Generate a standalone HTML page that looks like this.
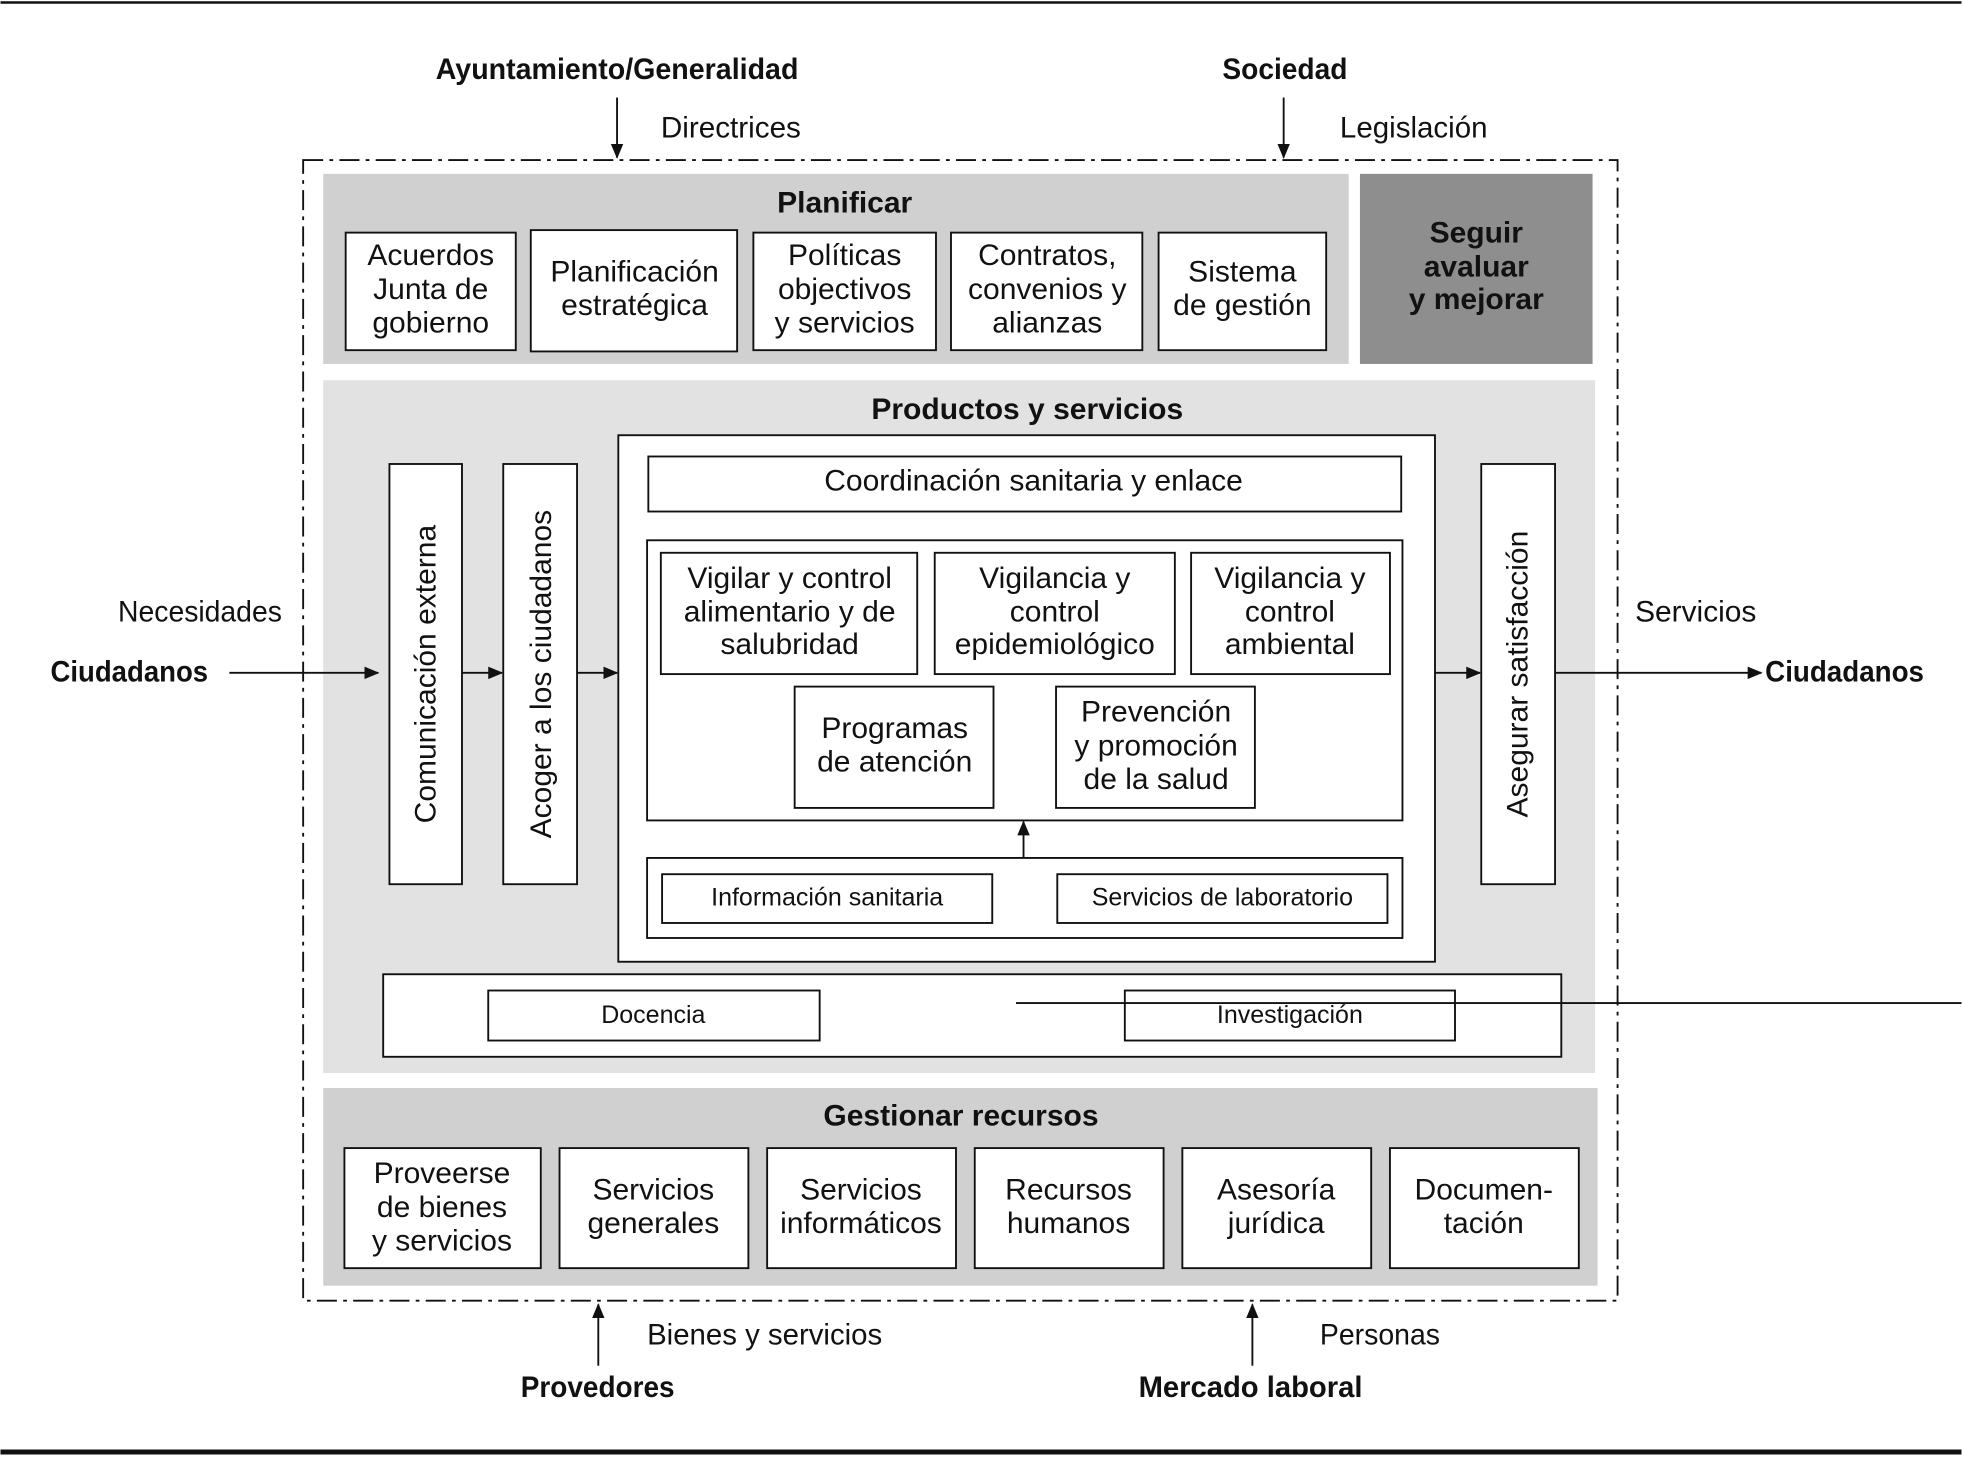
<!DOCTYPE html>
<html><head><meta charset="utf-8"><style>
html,body{margin:0;padding:0;background:#fff;}
svg{display:block;}
text{font-family:"Liberation Sans",sans-serif;fill:#111;}
.b{font-size:24px;text-anchor:middle;}
.s{font-size:20px;text-anchor:middle;}
.h{font-size:24px;font-weight:bold;text-anchor:middle;}
.c{font-size:24px;font-weight:bold;}
.n{font-size:24px;}
</style></head><body>
<svg width="1962" height="1457" viewBox="0 0 1568 1165" xmlns="http://www.w3.org/2000/svg">
<defs><marker id="a" markerWidth="12" markerHeight="10" refX="11" refY="5" orient="auto" markerUnits="userSpaceOnUse"><path d="M0,0 L12,5 L0,10 Z" fill="#111"/></marker></defs>
<rect width="1568" height="1165" fill="#fff"/>
<line x1="0" y1="2" x2="1568" y2="2" stroke="#111" stroke-width="2"/>
<line x1="0" y1="1161" x2="1568" y2="1161" stroke="#111" stroke-width="4"/>
<g fill="#d0d0d0"><rect x="258" y="139" width="820" height="152"/><rect x="258" y="870" width="1019" height="158"/></g>
<rect x="1087" y="139" width="186" height="152" fill="#8e8e8e"/>
<rect x="258" y="304" width="1017" height="554" fill="#e2e2e2"/>
<rect x="242" y="128" width="1051" height="912" fill="none" stroke="#111" stroke-width="1.5" stroke-dasharray="16,5,3,5"/>
<g fill="#fff" stroke="#111" stroke-width="1.5">
<rect x="276" y="186" width="136" height="94"/><rect x="424" y="184" width="165" height="97"/><rect x="602" y="186" width="146" height="94"/><rect x="760" y="186" width="153" height="94"/><rect x="926" y="186" width="134" height="94"/>
<rect x="494" y="348" width="653" height="421"/>
<rect x="518" y="365" width="602" height="44"/>
<rect x="517" y="432" width="604" height="224"/>
<rect x="528" y="442" width="205" height="97"/><rect x="747" y="442" width="192" height="97"/><rect x="952" y="442" width="159" height="97"/>
<rect x="635" y="549" width="159" height="97"/><rect x="844" y="549" width="159" height="97"/>
<rect x="517" y="686" width="604" height="64"/>
<rect x="529" y="699" width="264" height="39"/><rect x="845" y="699" width="264" height="39"/>
<rect x="311" y="371" width="58" height="336"/><rect x="402" y="371" width="59" height="336"/><rect x="1184" y="371" width="59" height="336"/>
<rect x="306" y="779" width="942" height="66"/>
<rect x="390" y="792" width="265" height="40"/><rect x="899" y="792" width="264" height="40"/>
<rect x="275" y="918" width="157" height="96"/><rect x="447" y="918" width="151" height="96"/><rect x="613" y="918" width="151" height="96"/><rect x="779" y="918" width="151" height="96"/><rect x="945" y="918" width="151" height="96"/><rect x="1111" y="918" width="151" height="96"/>
</g>
<g stroke="#111" stroke-width="1.5" marker-end="url(#a)">
<line x1="493" y1="78" x2="493" y2="126"/><line x1="1026" y1="78" x2="1026" y2="126"/>
<line x1="478" y1="1092" x2="478" y2="1043"/><line x1="1001" y1="1092" x2="1001" y2="1043"/>
<line x1="183" y1="538" x2="302" y2="538"/><line x1="369" y1="538" x2="401" y2="538"/><line x1="461" y1="538" x2="493" y2="538"/><line x1="1147" y1="538" x2="1183" y2="538"/><line x1="1243" y1="538" x2="1408" y2="538"/>
<line x1="818" y1="686" x2="818" y2="657"/>
</g>
<line x1="812" y1="802" x2="1568" y2="802" stroke="#111" stroke-width="1.5"/>
<text class="c" x="348" y="63" textLength="290" lengthAdjust="spacingAndGlyphs">Ayuntamiento/Generalidad</text>
<text class="c" x="977" y="63" textLength="100" lengthAdjust="spacingAndGlyphs">Sociedad</text>
<text class="n" x="528" y="110" textLength="112" lengthAdjust="spacingAndGlyphs">Directrices</text>
<text class="n" x="1071" y="110" textLength="118" lengthAdjust="spacingAndGlyphs">Legislación</text>
<text class="n" x="94" y="497" textLength="131" lengthAdjust="spacingAndGlyphs">Necesidades</text>
<text class="c" x="40" y="545" textLength="126" lengthAdjust="spacingAndGlyphs">Ciudadanos</text>
<text class="n" x="1307" y="497" textLength="97" lengthAdjust="spacingAndGlyphs">Servicios</text>
<text class="c" x="1411" y="545" textLength="127" lengthAdjust="spacingAndGlyphs">Ciudadanos</text>
<text class="n" x="517" y="1075" textLength="188" lengthAdjust="spacingAndGlyphs">Bienes y servicios</text>
<text class="c" x="416" y="1117" textLength="123" lengthAdjust="spacingAndGlyphs">Provedores</text>
<text class="n" x="1055" y="1075" textLength="96" lengthAdjust="spacingAndGlyphs">Personas</text>
<text class="c" x="910" y="1117" textLength="179" lengthAdjust="spacingAndGlyphs">Mercado laboral</text>
<text class="h" x="675" y="170">Planificar</text>
<text class="h" x="821" y="335">Productos y servicios</text>
<text class="h" x="768" y="900">Gestionar recursos</text>
<text class="h" x="1180" y="194">Seguir</text><text class="h" x="1180" y="221">avaluar</text><text class="h" x="1180" y="247">y mejorar</text>
<text class="b" x="344" y="212">Acuerdos</text><text class="b" x="344" y="239">Junta de</text><text class="b" x="344" y="266">gobierno</text>
<text class="b" x="507" y="225">Planificación</text><text class="b" x="507" y="252">estratégica</text>
<text class="b" x="675" y="212">Políticas</text><text class="b" x="675" y="239">objectivos</text><text class="b" x="675" y="266">y servicios</text>
<text class="b" x="837" y="212">Contratos,</text><text class="b" x="837" y="239">convenios y</text><text class="b" x="837" y="266">alianzas</text>
<text class="b" x="993" y="225">Sistema</text><text class="b" x="993" y="252">de gestión</text>
<text class="b" x="826" y="392">Coordinación sanitaria y enlace</text>
<text class="b" x="631" y="470">Vigilar y control</text><text class="b" x="631" y="497">alimentario y de</text><text class="b" x="631" y="523">salubridad</text>
<text class="b" x="843" y="470">Vigilancia y</text><text class="b" x="843" y="497">control</text><text class="b" x="843" y="523">epidemiológico</text>
<text class="b" x="1031" y="470">Vigilancia y</text><text class="b" x="1031" y="497">control</text><text class="b" x="1031" y="523">ambiental</text>
<text class="b" x="715" y="590">Programas</text><text class="b" x="715" y="617">de atención</text>
<text class="b" x="924" y="577">Prevención</text><text class="b" x="924" y="604">y promoción</text><text class="b" x="924" y="631">de la salud</text>
<text class="s" x="661" y="724">Información sanitaria</text>
<text class="s" x="977" y="724">Servicios de laboratorio</text>
<text class="s" x="522" y="818">Docencia</text>
<text class="s" x="1031" y="818">Investigación</text>
<text class="b" transform="translate(348,539) rotate(-90)">Comunicación externa</text>
<text class="b" transform="translate(440,539) rotate(-90)">Acoger a los ciudadanos</text>
<text class="b" transform="translate(1221,539) rotate(-90)">Asegurar satisfacción</text>
<text class="b" x="353" y="946">Proveerse</text><text class="b" x="353" y="973">de bienes</text><text class="b" x="353" y="1000">y servicios</text>
<text class="b" x="522" y="959">Servicios</text><text class="b" x="522" y="986">generales</text>
<text class="b" x="688" y="959">Servicios</text><text class="b" x="688" y="986">informáticos</text>
<text class="b" x="854" y="959">Recursos</text><text class="b" x="854" y="986">humanos</text>
<text class="b" x="1020" y="959">Asesoría</text><text class="b" x="1020" y="986">jurídica</text>
<text class="b" x="1186" y="959">Documen-</text><text class="b" x="1186" y="986">tación</text>
</svg>
</body></html>
